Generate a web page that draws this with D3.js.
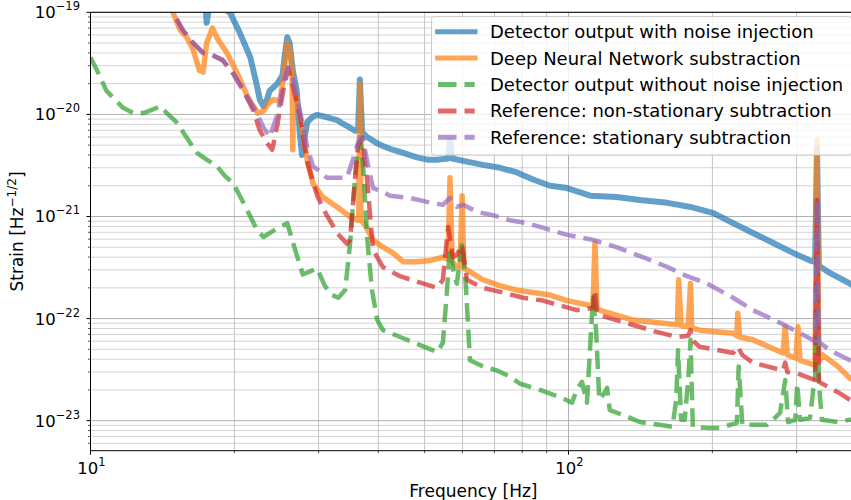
<!DOCTYPE html>
<html><head><meta charset="utf-8">
<script src="https://cdn.jsdelivr.net/npm/d3@7"></script>
<style>
body{margin:0;background:#fff}
svg{display:block;font-family:"DejaVu Sans",sans-serif}
</style>
</head><body>
<svg id="chart" width="851" height="500"></svg>
<script>
// ---------- data (Hz, strain Hz^-1/2) ----------
const seriesNames = [
  "Detector output with noise injection",
  "Deep Neural Network substraction",
  "Detector output without noise injection",
  "Reference: non-stationary subtraction",
  "Reference: stationary subtraction"
];
const seriesColors = ["#1f77b4", "#ff7f0e", "#2ca02c", "#d62728", "#9467bd"];

const blueFreq = [16.9,17.4,17.5,17.7,18.2,19.6,20.5,21.6,22.3,22.6,23.0,23.4,23.7,24.6,25.2,25.5,25.8,26.1,26.5,27.0,27.4,27.7,28.1,28.4,29.1,29.8,30.6,31.7,32.8,33.7,34.9,35.8,36.3,36.6,37.0,37.9,39.8,40.9,42.3,44.4,48.2,50.6,53.1,56.0,56.5,57.1,60.2,66.2,71.9,78.0,84.3,91.5,99.3,111,126,141,161,180,201,221,243,268,295,320,328,331,334,352,388,401];
const blueStrain = [1.6e-19,1.18e-19,7.9e-20,1.1e-19,1.3e-19,9.8e-20,6.4e-20,3.6e-20,1.9e-20,1.4e-20,1.2e-20,1.4e-20,1.7e-20,2.0e-20,2.4e-20,3.8e-20,5.7e-20,5.0e-20,2.7e-20,1.7e-20,6.6e-21,4.0e-21,6.3e-21,8.4e-21,9.4e-21,9.9e-21,9.6e-21,9.2e-21,8.8e-21,8.1e-21,7.4e-21,6.9e-21,7.0e-21,2.2e-20,6.7e-21,6.0e-21,5.2e-21,4.9e-21,4.6e-21,4.3e-21,3.8e-21,3.6e-21,3.6e-21,3.7e-21,5.6e-21,3.7e-21,3.5e-21,3.2e-21,3.0e-21,2.7e-21,2.3e-21,2.0e-21,1.9e-21,1.6e-21,1.55e-21,1.45e-21,1.36e-21,1.24e-21,1.08e-21,8.6e-22,6.9e-22,5.5e-22,4.4e-22,3.7e-22,3.6e-22,4.7e-21,3.3e-22,2.8e-22,2.2e-22,2.0e-22];

const orangeFreq = [14.5,14.9,15.4,15.9,16.4,16.9,17.2,17.5,18.0,18.4,19.3,20.3,21.3,21.9,22.4,23.0,23.5,24.1,24.9,25.3,25.8,26.1,26.4,26.5,26.6,27.0,27.8,28.4,29.2,30.6,32.8,34.9,36.1,36.4,36.6,36.8,37.5,39.0,40.9,42.9,45.1,48.2,51.3,54.6,56.0,56.5,57.1,58.4,59.3,59.9,60.4,61.3,66.2,71.9,78.0,84.3,91.5,99.3,112.5,113.6,114.7,116,136,169,170,172,178,180,181,188,221,225,226,228,243,281,284,287,299,302,305,328,331,334,340,366,388,401];
const orangeStrain = [1.5e-19,9.8e-20,6.7e-20,5.7e-20,4.3e-20,2.7e-20,2.6e-20,5.0e-20,7.0e-20,5.6e-20,4.0e-20,2.5e-20,1.5e-20,1.2e-20,1.03e-20,1.08e-20,1.26e-20,1.4e-20,1.35e-20,2.2e-20,5.0e-20,4.3e-20,2.7e-20,4.5e-21,1.9e-20,1.4e-20,6.6e-21,3.6e-21,2.1e-21,1.55e-21,1.24e-21,1.0e-21,9.2e-22,9.2e-22,2.0e-20,9.2e-22,8.3e-22,5.9e-22,5.0e-22,4.4e-22,3.6e-22,3.6e-22,3.7e-22,4.0e-22,3.8e-22,2.4e-21,3.6e-22,3.2e-22,3.2e-22,1.6e-21,3.1e-22,3.0e-22,2.4e-22,2.1e-22,1.9e-22,1.8e-22,1.7e-22,1.5e-22,1.33e-22,5.5e-22,1.27e-22,1.21e-22,9.7e-23,8.7e-23,2.4e-22,8.5e-23,8.3e-23,2.2e-22,8.1e-23,7.7e-23,7.2e-23,6.8e-23,1.13e-22,6.6e-23,6.2e-23,4.6e-23,8.3e-23,4.4e-23,4.1e-23,8.3e-23,3.9e-23,3.5e-23,5.6e-21,3.8e-23,4.4e-23,3.4e-23,2.6e-23,2.4e-23];

const greenFreq = [10.0,10.4,10.8,11.25,11.7,12.3,12.9,13.4,14.0,14.5,15.2,15.9,16.7,17.5,18.4,19.1,19.9,21.0,22.3,23.0,24.3,25.8,26.8,27.8,28.8,29.8,30.9,32.0,33.0,34.1,34.9,35.8,36.3,36.8,37.3,37.9,38.8,39.8,40.9,43.4,45.9,48.9,53.1,54.6,55.7,56.5,57.6,58.4,59.9,61.0,62.2,66.2,70.9,75.4,79.2,87.2,96.0,101.7,104,106.7,109.3,111.5,112.5,114.2,116,119.2,120.4,122,133,141,155,165,168,169.5,172,175,178,180,182,195,207,225,227,231,260,270,277,284,288,298,301,305,320,325,328,331,334,339,366,388,401];
const greenStrain = [3.6e-20,2.5e-20,1.7e-20,1.4e-20,1.16e-20,1.03e-20,1.03e-20,1.1e-20,1.2e-20,1.01e-20,8.2e-21,5.9e-21,4.2e-21,3.6e-21,3.1e-21,2.5e-21,2.1e-21,1.3e-21,7.4e-22,6.3e-22,7.4e-22,8.6e-22,4.7e-22,2.7e-22,2.9e-22,3.1e-22,2.1e-22,1.7e-22,1.6e-22,1.9e-22,5.3e-22,2.5e-21,5.0e-21,5.6e-21,2.5e-21,6.3e-22,1.9e-22,9.7e-23,7.7e-23,6.9e-23,6.2e-23,5.5e-23,4.7e-23,5.8e-23,1.9e-22,4.9e-22,2.7e-22,2.2e-22,5.5e-22,2.1e-22,3.9e-23,3.4e-23,3.1e-23,2.7e-23,2.3e-23,2.0e-23,1.7e-23,1.5e-23,2.0e-23,2.4e-23,1.5e-23,7.7e-23,1.6e-22,7.7e-23,1.6e-23,1.9e-23,2.1e-23,1.27e-23,1.09e-23,9.7e-24,9.1e-24,8.7e-24,1.6e-23,4.9e-23,1.02e-23,1.02e-23,2.5e-23,6.2e-23,8.7e-24,8.5e-24,8.5e-24,9.5e-24,3.4e-23,9.1e-24,9.1e-24,1.06e-23,1.19e-23,2.5e-23,9.7e-24,1.02e-23,2.3e-23,1.02e-23,1.06e-23,2.0e-23,2.3e-23,1.45e-21,2.3e-23,1.02e-23,9.7e-24,1.02e-23,1.02e-23];

const redFreq = [14.5,14.9,15.6,16.4,17.2,18.0,18.9,19.9,20.9,21.9,22.6,23.3,24.0,24.6,25.3,25.9,26.5,27.4,28.4,29.8,31.2,32.8,34.4,34.9,35.8,36.3,37.0,37.9,39.0,40.9,44.4,48.2,53.1,54.6,56.0,57.3,58.4,59.9,61.3,66.2,72.9,80.3,88.4,104,112.5,113.6,114.7,116,136,153,169,178,180,181,188,221,226,231,243,281,284,287,301,328,331,334,366,388,401];
const redStrain = [1.5e-19,9.8e-20,6.7e-20,5.0e-20,4.0e-20,3.8e-20,3.4e-20,2.5e-20,1.7e-20,1.1e-20,7.0e-21,5.4e-21,4.5e-21,7.9e-21,1.7e-20,2.8e-20,1.9e-20,9.9e-21,3.4e-21,1.6e-21,1.03e-21,6.9e-22,5.4e-22,5.9e-22,2.5e-21,5.0e-21,5.9e-21,2.3e-21,4.7e-22,3.2e-22,2.6e-22,2.3e-22,2.0e-22,2.4e-22,7.9e-22,4.0e-22,4.2e-22,5.3e-22,2.4e-22,2.0e-22,1.8e-22,1.6e-22,1.5e-22,1.21e-22,1.27e-22,1.9e-22,1.16e-22,1.08e-22,8.7e-23,7.4e-23,6.6e-23,6.8e-23,7.7e-23,6.2e-23,5.3e-23,4.6e-23,5.3e-23,4.4e-23,3.7e-23,3.1e-23,3.7e-23,3.0e-23,2.9e-23,2.5e-23,1.45e-21,2.4e-23,1.9e-23,1.6e-23,1.5e-23];

const purpleFreq = [14.5,14.9,15.6,16.4,17.2,18.0,18.9,19.9,20.9,21.9,23.0,23.7,24.6,25.3,25.9,26.5,27.4,28.4,29.2,29.8,31.2,33.3,34.4,35.4,36.6,37.2,38.1,39.0,40.9,42.3,46.6,50.6,54.6,56.5,58.4,60.2,64.4,69.5,75.4,81.9,87.2,91.5,99.3,112.5,126,143,161,177,195,221,243,277,305,328,331,334,352,388,401];
const purpleStrain = [1.5e-19,9.8e-20,6.7e-20,5.0e-20,4.0e-20,3.8e-20,3.4e-20,2.5e-20,1.7e-20,1.2e-20,7.5e-21,6.0e-21,9.9e-21,2.0e-20,2.9e-20,2.2e-20,1.1e-20,4.8e-21,3.1e-21,2.9e-21,2.4e-21,2.4e-21,2.4e-21,3.6e-21,6.0e-21,5.6e-21,3.1e-21,1.9e-21,1.74e-21,1.6e-21,1.52e-21,1.39e-21,1.3e-21,1.52e-21,1.24e-21,1.3e-21,1.11e-21,1.03e-21,9.2e-22,8.6e-22,7.9e-22,7.4e-22,6.6e-22,5.9e-22,5.0e-22,4.0e-22,3.2e-22,2.6e-22,2.2e-22,1.6e-22,1.21e-22,9.1e-23,7.2e-23,6.0e-23,1.45e-21,5.9e-23,4.9e-23,3.9e-23,3.7e-23];

const xTickLabels = [{v: 10, exp: "1"}, {v: 100, exp: "2"}];
const yTickLabels = [{v: 1e-23, exp: "\u221223"}, {v: 1e-22, exp: "\u221222"}, {v: 1e-21, exp: "\u221221"}, {v: 1e-20, exp: "\u221220"}, {v: 1e-19, exp: "\u221219"}];
const xDomain = [10, 400];
const yDomain = [5.08e-24, 1e-19];

// ---------- layout ----------
const svg = d3.select("#chart");
const L = 90.5, R = 856.3, T = 12.3, B = 450.7;
const x = d3.scaleLog().domain(xDomain).range([L, R]);
const y = d3.scaleLog().domain(yDomain).range([B, T]);

svg.append("defs").append("clipPath").attr("id", "clip")
  .append("rect").attr("x", L).attr("y", T).attr("width", R - L).attr("height", B - T);

const xMinor = [], yMinor = [];
for (let d = 10; d < 1000; d *= 10) for (let k = 2; k <= 9; k++) { const v = k * d; if (v > xDomain[0] && v < xDomain[1]) xMinor.push(v); }
for (let e = -24; e <= -20; e++) for (let k = 2; k <= 9; k++) { const v = k * Math.pow(10, e); if (v > yDomain[0] && v < yDomain[1]) yMinor.push(v); }
const xMajor = xTickLabels.map(d => d.v), yMajor = yTickLabels.map(d => d.v);

const grid = svg.append("g");
grid.selectAll(".ym").data(yMinor).join("line")
  .attr("x1", L).attr("x2", R).attr("y1", d => y(d)).attr("y2", d => y(d))
  .attr("stroke", "#d4d4d4").attr("stroke-width", 1);
grid.selectAll(".xm").data(xMinor).join("line")
  .attr("y1", T).attr("y2", B).attr("x1", d => x(d)).attr("x2", d => x(d))
  .attr("stroke", "#c4c4c4").attr("stroke-width", 1);
grid.selectAll(".yM").data(yMajor).join("line")
  .attr("x1", L).attr("x2", R).attr("y1", d => y(d)).attr("y2", d => y(d))
  .attr("stroke", "#b0b0b0").attr("stroke-width", 1);
grid.selectAll(".xM").data(xMajor).join("line")
  .attr("y1", T).attr("y2", B).attr("x1", d => x(d)).attr("x2", d => x(d))
  .attr("stroke", "#b0b0b0").attr("stroke-width", 1);

// ---------- series ----------
const series = [
  {f: blueFreq, s: blueStrain, dash: null, w: 6},
  {f: orangeFreq, s: orangeStrain, dash: null, w: 5.5},
  {f: greenFreq, s: greenStrain, dash: "18.5,8", w: 4.5},
  {f: redFreq, s: redStrain, dash: "18.5,8", w: 4.5},
  {f: purpleFreq, s: purpleStrain, dash: "18.5,8", w: 4.5}
];
const line = d3.line().x(d => x(d[0])).y(d => y(d[1]));
const plot = svg.append("g").attr("clip-path", "url(#clip)");
series.forEach((sr, i) => {
  const pts = sr.f.map((f, j) => [f, sr.s[j]]);
  plot.append("path").datum(pts).attr("d", line)
    .attr("fill", "none").attr("stroke", seriesColors[i]).attr("stroke-opacity", 0.7)
    .attr("stroke-width", sr.w)
    .attr("stroke-linejoin", "round")
    .attr("stroke-linecap", sr.dash ? "butt" : "square")
    .attr("stroke-dasharray", sr.dash);
});

// ---------- axes ----------
const ax = svg.append("g").attr("stroke", "#000");
ax.append("line").attr("x1", L).attr("x2", L).attr("y1", T).attr("y2", B).attr("stroke-width", 1);
ax.append("line").attr("x1", L).attr("x2", R).attr("y1", B).attr("y2", B).attr("stroke-width", 1);
ax.append("line").attr("x1", L).attr("x2", R).attr("y1", T).attr("y2", T).attr("stroke-width", 1);
ax.selectAll(".ytM").data(yMajor).join("line").attr("x1", L - 4).attr("x2", L).attr("y1", d => y(d)).attr("y2", d => y(d)).attr("stroke-width", 1);
ax.selectAll(".ytm").data(yMinor).join("line").attr("x1", L - 2.5).attr("x2", L).attr("y1", d => y(d)).attr("y2", d => y(d)).attr("stroke-width", 0.7);
ax.selectAll(".xtM").data(xMajor).join("line").attr("y1", B).attr("y2", B + 4).attr("x1", d => x(d)).attr("x2", d => x(d)).attr("stroke-width", 1);
ax.selectAll(".xtm").data(xMinor).join("line").attr("y1", B).attr("y2", B + 2.5).attr("x1", d => x(d)).attr("x2", d => x(d)).attr("stroke-width", 0.7);

const tickFont = 16.5, supFont = 11.5;
svg.selectAll(".ylab").data(yTickLabels).join("text")
  .attr("x", 80).attr("y", d => y(d.v) + 6).attr("text-anchor", "end")
  .attr("font-size", tickFont).attr("fill", "#000")
  .each(function(d) {
    const t = d3.select(this);
    t.append("tspan").text("10");
    t.append("tspan").attr("dy", -8).attr("font-size", supFont).text(d.exp);
  });
svg.selectAll(".xlab").data(xTickLabels).join("text")
  .attr("x", d => x(d.v) + 1).attr("y", 474).attr("text-anchor", "middle")
  .attr("font-size", tickFont).attr("fill", "#000")
  .each(function(d) {
    const t = d3.select(this);
    t.append("tspan").text("10");
    t.append("tspan").attr("dy", -8).attr("font-size", supFont).text(d.exp);
  });

svg.append("text").attr("x", (L + R) / 2).attr("y", 497).attr("text-anchor", "middle")
  .attr("font-size", 17).attr("fill", "#000").text("Frequency [Hz]");

const yl = svg.append("text").attr("transform", `translate(23,${(T + B) / 2}) rotate(-90)`)
  .attr("text-anchor", "middle").attr("font-size", 17).attr("fill", "#000");
yl.append("tspan").text("Strain [Hz");
yl.append("tspan").attr("dy", -7).attr("font-size", 12).text("\u22121/2");
yl.append("tspan").attr("dy", 7).text("]");

// ---------- legend ----------
const lg = svg.append("g");
lg.append("rect").attr("x", 431.5).attr("y", 16.5).attr("width", 420).attr("height", 138.5)
  .attr("rx", 3).attr("fill", "#fff").attr("fill-opacity", 0.8).attr("stroke", "#cccccc").attr("stroke-width", 1);
const rowY = i => 31.7 + i * 26.4;
seriesNames.forEach((name, i) => {
  const sr = series[i];
  lg.append("line").attr("x1", sr.dash ? 438 : 437.6).attr("x2", sr.dash ? 474.7 : 475)
    .attr("y1", rowY(i)).attr("y2", rowY(i))
    .attr("stroke", seriesColors[i]).attr("stroke-opacity", 0.7).attr("stroke-width", 5)
    .attr("stroke-linecap", sr.dash ? "butt" : "square").attr("stroke-dasharray", sr.dash);
  lg.append("text").attr("x", 490).attr("y", rowY(i) + 6.5).attr("font-size", 18).attr("fill", "#000").text(name);
});
</script>
</body></html>
